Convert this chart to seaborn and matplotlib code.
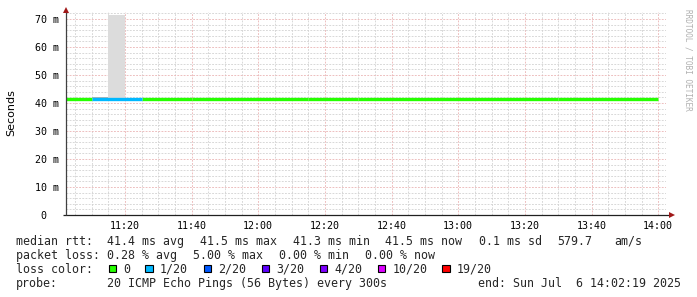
import matplotlib
matplotlib.use("Agg")
import matplotlib.pyplot as plt
import matplotlib.dates as mdates
from matplotlib.patches import Rectangle
from matplotlib.transforms import ScaledTranslation
import numpy as np
import pandas as pd
import seaborn as sns

# ---------------- data ----------------
day = "2025-07-06 "
x_start = "11:02:19"
x_end = "14:02:19"

# median rtt segments (ms) with loss colour index
seg_start = ["11:00", "11:10", "11:25", "11:40", "12:15", "12:30", "13:30"]
seg_end = ["11:10", "11:25", "11:40", "12:15", "12:30", "13:30", "14:00"]
seg_median = [41.5, 41.5, 41.5, 41.3, 41.5, 41.3, 41.5]
seg_loss = [0, 1, 0, 0, 0, 0, 0]

# smoke (spread of the pings, ms)
smoke_start = ["11:10", "11:15"]
smoke_end = ["11:15", "11:20"]
smoke_lo = [41.9, 41.9]
smoke_hi = [42.3, 71.6]

y_ticks = [0, 10, 20, 30, 40, 50, 60, 70]
y_tick_labels = ["0", "10 m", "20 m", "30 m", "40 m", "50 m", "60 m", "70 m"]

loss_labels = ["0", "1/20", "2/20", "3/20", "4/20", "10/20", "19/20"]
loss_colors = ["#26ff00", "#00b8ff", "#0059ff", "#5e00ff", "#7e00ff", "#dd00ff", "#ff0000"]

rtt_row = ["median rtt:", "41.4 ms avg", "41.5 ms max", "41.3 ms min", "41.5 ms now",
           "0.1 ms sd", "579.7", "am/s"]
loss_row = ["packet loss:", "0.28 % avg", "5.00 % max", "0.00 % min", "0.00 % now"]
probe_row = ["probe:", "20 ICMP Echo Pings (56 Bytes) every 300s",
             "end: Sun Jul  6 14:02:19 2025"]

# ---------------- style / layout ----------------
W, H = 697, 297
sns.set_theme(style="white")
plt.rcParams["font.family"] = ["DejaVu Sans Mono"]
MONO = "DejaVu Sans Mono"
smoke_shades = ["#b4b4b4", "#dcdcdc"]
rtt_x = [16, 107.3, 199.5, 293.3, 385, 479.3, 557.7, 614.3]
loss_x = [16, 107.3, 193.3, 279.3, 365]
probe_x = [16, 107.3, 478]
box_x = [108.5, 145, 203.5, 261.7, 319.5, 377.7, 442.3]
lab_x = [123.3, 160, 218, 276.7, 334, 392.7, 456.7]
row_base = [244.7, 258.7, 272.7, 286.7]

fig = plt.figure(figsize=(W / 100, H / 100), dpi=100, facecolor="white")
ax_left, ax_right, ax_bottom, ax_top = 66, 666, 215, 11.7
ax = fig.add_axes([ax_left / W, 1 - ax_bottom / H, (ax_right - ax_left) / W,
                   (ax_bottom - ax_top) / H])
ax.set_facecolor("white")


def T(s):
    return pd.Timestamp(day + s)


# smoke
for s, e, lo, hi, c in zip(smoke_start, smoke_end, smoke_lo, smoke_hi, smoke_shades):
    ax.fill_between([T(s), T(e)], [lo, lo], [hi, hi], color=c, lw=0, zorder=2)

# median line segments
rows = []
for i, (s, e, m, l) in enumerate(zip(seg_start, seg_end, seg_median, seg_loss)):
    rows.append({"t": T(s), "median": m, "seg": i, "loss": loss_labels[l]})
    rows.append({"t": T(e), "median": m, "seg": i, "loss": loss_labels[l]})
df = pd.DataFrame(rows)
sns.lineplot(data=df, x="t", y="median", hue="loss", units="seg", estimator=None,
             palette=dict(zip(loss_labels, loss_colors)), linewidth=2.4,
             legend=False, ax=ax, solid_capstyle="butt", zorder=3)

ax.set_xlim(T(x_start), T(x_end))
ax.set_ylim(0, 72.6)
ax.set_xlabel("")
ax.set_ylabel("")

# axes/grid
ax.xaxis.set_major_locator(mdates.MinuteLocator(byminute=[0, 20, 40]))
ax.xaxis.set_minor_locator(mdates.MinuteLocator(byminute=range(0, 60, 5)))
ax.xaxis.set_major_formatter(mdates.DateFormatter("%H:%M"))
ax.set_yticks(y_ticks)
ax.set_yticks(np.arange(0, 73, 2), minor=True)
ax.set_yticklabels(y_tick_labels)
ax.set_axisbelow(True)
ax.grid(which="minor", color="#d2d2d2", linestyle=(0, (2.2, 1.6)), linewidth=0.6, zorder=0)
ax.grid(which="major", color="#eab4b4", linestyle=(0, (2.2, 1.6)), linewidth=0.6, zorder=1)
ax.tick_params(axis="both", which="both", direction="out", length=1.5, width=0.72,
               color="#404040", labelsize=7.2, labelcolor="#000000")
ax.tick_params(axis="x", which="major", pad=3)
ax.tick_params(axis="y", which="major", pad=3.4)
ax.tick_params(axis="y", which="minor", length=0)
for lab in ax.get_xticklabels() + ax.get_yticklabels():
    lab.set_fontfamily(MONO)
ylabs = ax.get_yticklabels()
ylabs[0].set_transform(ylabs[0].get_transform() +
                       ScaledTranslation(-12.6 / 100, 0, fig.dpi_scale_trans))
for sp in ax.spines.values():
    sp.set_visible(False)

# axis lines with arrows
ax.plot([-0.005, 1.006], [0, 0], transform=ax.transAxes, color="#202020", lw=0.9,
        clip_on=False, zorder=5, solid_capstyle="butt")
ax.plot([0, 0], [0, 1.0], transform=ax.transAxes, color="#404040", lw=0.9,
        clip_on=False, zorder=5, solid_capstyle="butt")
ax.plot([1.0095], [0], marker=">", markersize=4.2, color="#a01818", mew=0,
        transform=ax.transAxes, clip_on=False, zorder=6)
ax.plot([0], [1.006], marker="^", markersize=4.2, color="#a01818", mew=0,
        transform=ax.transAxes, clip_on=False, zorder=6)

# y label
fig.text(11 / W, 1 - 113 / H, "Seconds", rotation=90, ha="center", va="center",
         fontsize=8, family="DejaVu Sans", color="#000000")

# watermark
fig.text(688 / W, 1 - 60 / H, "RRDTOOL / TOBI OETIKER", rotation=-90, ha="center",
         va="center", fontsize=5.6, family=MONO, color="#b0b0b0")

# legend
fs = 8.4
for txt, x in zip(rtt_row, rtt_x):
    fig.text(x / W, 1 - row_base[0] / H, txt, fontsize=fs, family=MONO, va="baseline")
for txt, x in zip(loss_row, loss_x):
    fig.text(x / W, 1 - row_base[1] / H, txt, fontsize=fs, family=MONO, va="baseline")
fig.text(16 / W, 1 - row_base[2] / H, "loss color:", fontsize=fs, family=MONO, va="baseline")
for lab, col, bx, lx in zip(loss_labels, loss_colors, box_x, lab_x):
    fig.patches.append(Rectangle((bx / W, 1 - 272 / H), 7.5 / W, 7.5 / H,
                                 transform=fig.transFigure, facecolor=col,
                                 edgecolor="#000000", lw=0.8))
    fig.text(lx / W, 1 - row_base[2] / H, lab, fontsize=fs, family=MONO, va="baseline")
for txt, x in zip(probe_row, probe_x):
    fig.text(x / W, 1 - row_base[3] / H, txt, fontsize=fs, family=MONO, va="baseline")

fig.savefig("out.png", dpi=100, facecolor="white")
